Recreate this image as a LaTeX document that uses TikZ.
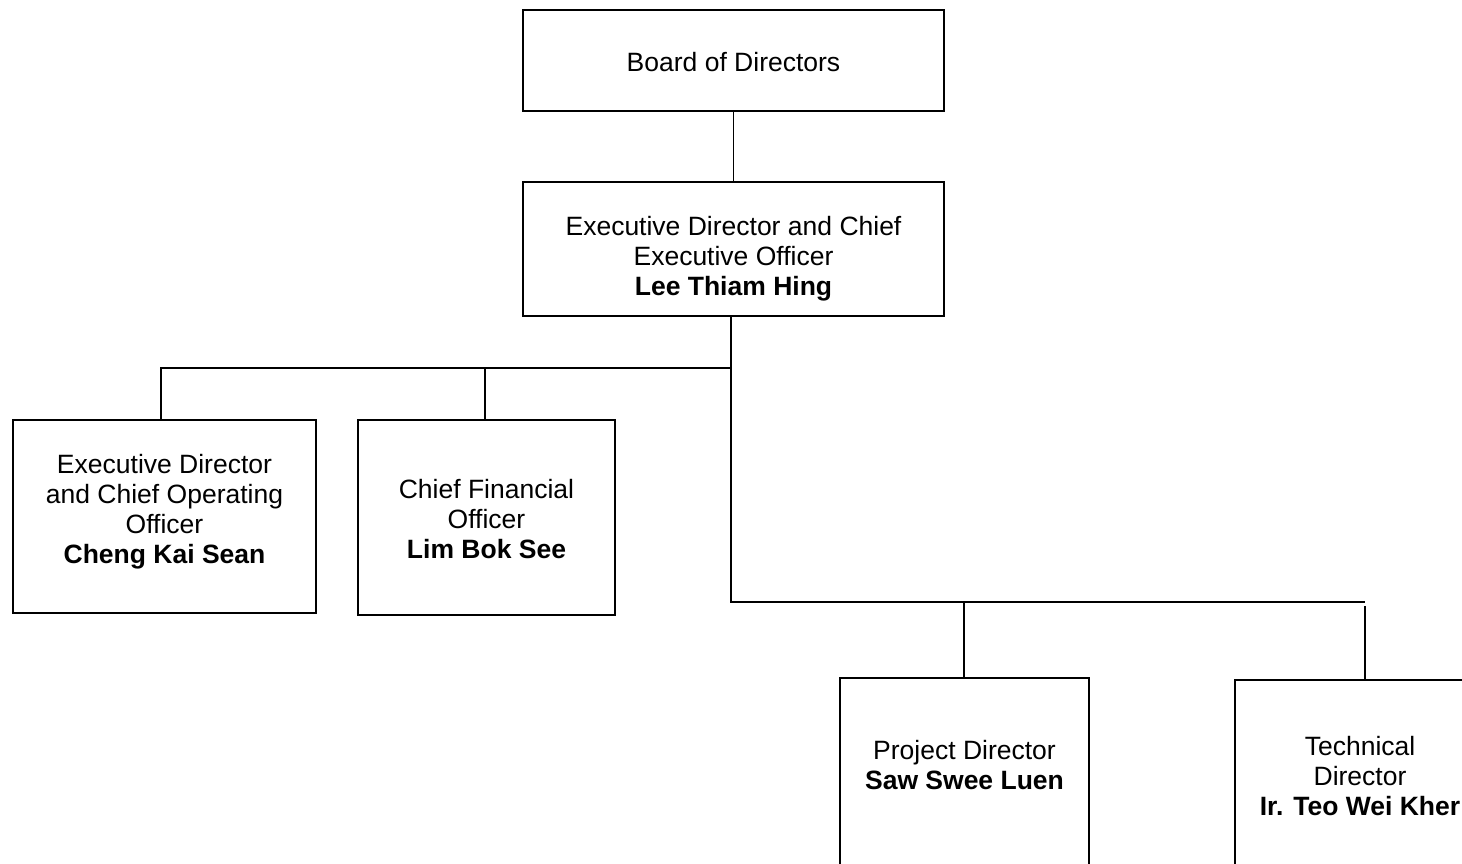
\documentclass[tikz,border=0pt]{standalone}
\usepackage{fontspec}
\setmainfont{Liberation Sans}
\begin{document}
\begin{tikzpicture}[x=1pt,y=-1pt,
  box/.style={draw, line width=1.5pt, inner sep=0pt},
  txt/.style={align=center, inner sep=0pt, font=\fontsize{26.5}{30}\selectfont},
  conn/.style={line width=1.3pt}]
\useasboundingbox (0,0) rectangle (1462,864);
\clip (0,0) rectangle (1462,864);
\node[box, minimum width=421, minimum height=101] (board) at (733.5,60.5) {};
\node[box, minimum width=421, minimum height=134] (ceo) at (733.5,249) {};
\node[box, minimum width=303, minimum height=193] (coo) at (164.5,516.5) {};
\node[box, minimum width=257, minimum height=195] (cfo) at (486.5,517.5) {};
\node[box, minimum width=249, minimum height=192] (pd) at (964.5,774) {};
\node[box, minimum width=250, minimum height=190] (td) at (1360,775) {};
\node[txt] (board-t) at ([yshift=-1.5pt]board.center) {Board of Directors};
\node[txt] (ceo-t) at ([yshift=-10pt]ceo.center) {Executive Director and Chief\\Executive Officer\\\textbf{Lee Thiam Hing}};
\node[txt] (coo-t) at ([yshift=4.5pt]coo.center) {Executive Director\\and Chief Operating\\Officer\\\textbf{Cheng Kai Sean}};
\node[txt] (cfo-t) at ([yshift=-1.5pt]cfo.center) {Chief Financial\\Officer\\\textbf{Lim Bok See}};
\node[txt] (pd-t) at ([yshift=9pt]pd.center) {Project Director\\\textbf{Saw Swee Luen}};
\node[txt] (td-t) at ([yshift=-1pt]td.center) {Technical\\Director\\\textbf{Ir. Teo Wei Kher}};
\coordinate (j1) at (731,368);
\coordinate (j2) at (731,602);
\coordinate (jl) at (161,368);
\coordinate (jc) at (485,368);
\coordinate (jp) at (964,602);
\coordinate (jt) at (1365,602);
\draw[conn] (board.south) -- (ceo.north);
\draw[conn] (ceo.south -| j1) -- (j1) -- (j2) -- (jt);
\draw[conn] (j1) -- (jl) -- (jl |- coo.north);
\draw[conn] (jc) -- (jc |- cfo.north);
\draw[conn] (jp) -- (jp |- pd.north);
\draw[conn] ([yshift=-4pt]jt) -- (jt |- td.north);
\end{tikzpicture}
\end{document}
